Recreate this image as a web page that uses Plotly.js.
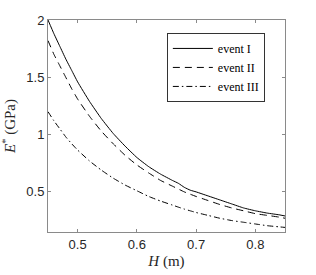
<!DOCTYPE html>
<html>
<head>
<meta charset="utf-8">
<script src="https://cdn.plot.ly/plotly-3.0.1.min.js"></script>
<style>html,body{margin:0;padding:0;background:#fff;}#chart{width:316px;height:275px;}</style>
</head>
<body>
<div id="chart"></div>
<script>
var H = [0.45,0.46,0.47,0.48,0.49,0.50,0.52,0.54,0.56,0.58,0.60,0.62,0.64,0.66,0.67,0.68,0.69,0.70,0.72,0.74,0.76,0.78,0.80,0.82,0.84,0.85];
var eventI   = [2.00,1.88,1.77,1.66,1.56,1.46,1.29,1.14,1.01,0.90,0.80,0.72,0.655,0.60,0.575,0.54,0.515,0.50,0.465,0.43,0.395,0.36,0.335,0.315,0.30,0.29];
var eventII  = [1.82,1.70,1.60,1.50,1.40,1.31,1.16,1.03,0.92,0.82,0.735,0.665,0.60,0.55,0.525,0.50,0.48,0.46,0.425,0.39,0.36,0.335,0.31,0.295,0.28,0.27];
var eventIII = [1.20,1.12,1.05,0.98,0.92,0.865,0.77,0.69,0.62,0.56,0.51,0.46,0.42,0.385,0.367,0.35,0.335,0.32,0.295,0.27,0.25,0.235,0.22,0.205,0.195,0.19];
var names = ['event I','event II','event III'];
var dashes = ['solid','7px,5px','6px,3px,1.5px,3px'];
var series = [eventI, eventII, eventIII];

var SERIF = '"Liberation Serif", "Times New Roman", serif';

var traces = series.map(function(s,i){
  return {x:H, y:s, type:'scatter', mode:'lines', name:names[i],
    line:{color:'#000', width:1, dash:dashes[i], shape:'spline', smoothing:0.4}};
});

var axisCommon = {showgrid:false, zeroline:false, showline:true, linecolor:'#8a8a8a', linewidth:1,
  mirror:'ticks', ticks:'inside', ticklen:3, tickcolor:'#8a8a8a',
  tickfont:{family:'"Liberation Sans", Arial, sans-serif', size:13, color:'#262626'}};

var layout = {
  width:316, height:275,
  margin:{l:48, r:31, t:20, b:43},
  paper_bgcolor:'#fff', plot_bgcolor:'#fff',
  showlegend:true,
  legend:{x:0.915, y:0.939, xanchor:'right', yanchor:'top', bgcolor:'#fff',
    bordercolor:'#333', borderwidth:1, tracegroupgap:0, itemwidth:40,
    font:{family:SERIF, size:12, color:'#000'}},
  xaxis:Object.assign({}, axisCommon, {range:[0.45,0.85], tickvals:[0.5,0.6,0.7,0.8], ticktext:['0.5','0.6','0.7','0.8'],
    title:{text:'<i>H</i> (m)', standoff:4, font:{family:SERIF, size:15, color:'#262626'}}}),
  yaxis:Object.assign({}, axisCommon, {range:[0.15,2], tickvals:[0.5,1,1.5,2], ticktext:['0.5','1','1.5','2'],
    title:{text:'<i>E</i><sup>*</sup> (GPa)', standoff:8, font:{family:SERIF, size:15, color:'#262626'}}})
};
Plotly.newPlot('chart', traces, layout, {displayModeBar:false, staticPlot:true});
</script>
</body>
</html>
